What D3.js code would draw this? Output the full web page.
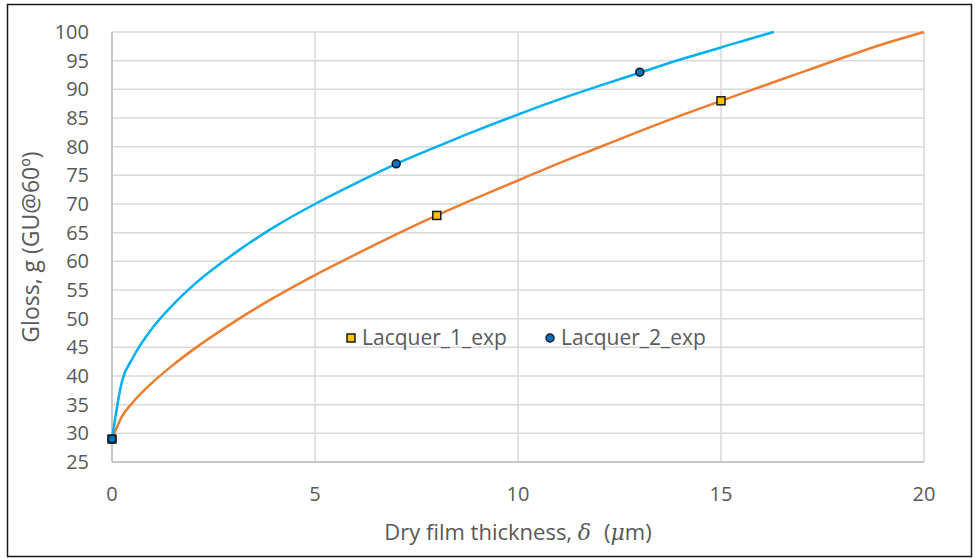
<!doctype html>
<html lang="en">
<head>
  <meta charset="utf-8">
  <title>Gloss vs dry film thickness</title>
  <style>
    body { margin:0; background:#fff; }
    svg text { font-family:"Open Sans", sans-serif; fill:#595959; }
  </style>
</head>
<body>
<svg id="chart" width="975" height="558"></svg>

<script src="https://cdn.jsdelivr.net/npm/d3@7"></script>
<script>
// fitted curves, values
var thick1 = [0, 0.25, 0.5, 1, 1.5, 2, 3, 4, 5, 6, 7, 8, 9, 10, 11, 12, 13, 14, 15, 16, 17, 18, 19, 20];
var gloss1 = [29, 33.0, 35.3, 38.9, 41.9, 44.6, 49.4, 53.7, 57.6, 61.2, 64.7, 68.0, 71.1, 74.1, 77.1, 79.9, 82.7, 85.4, 88.0, 90.5, 93.0, 95.5, 97.9, 100];
var thick2 = [0, 0.25, 0.5, 1, 1.5, 2, 3, 4, 5, 6, 7, 8, 9, 10, 11, 12, 13, 14, 15, 16, 16.3];
var gloss2 = [29, 39.2, 43.0, 48.4, 52.4, 55.8, 61.3, 66.0, 70.0, 73.6, 77.0, 80.0, 82.9, 85.6, 88.2, 90.6, 92.9, 95.2, 97.3, 99.4, 100];

// experimental points
var exp1X = [0, 8, 15];
var exp1Y = [29, 68, 88];
var exp2X = [0, 7, 13];
var exp2Y = [29, 77, 93];

var xTicks = [0, 5, 10, 15, 20];
var yTicks = [25, 30, 35, 40, 45, 50, 55, 60, 65, 70, 75, 80, 85, 90, 95, 100];

var svg = d3.select("#chart");

// outer frame
svg.append("rect")
  .attr("x", 7.5).attr("y", 4.5)
  .attr("width", 964).attr("height", 552)
  .attr("fill", "none").attr("stroke", "#1a1a1a").attr("stroke-width", 1.5);

var x = d3.scaleLinear().domain([0, 20]).range([112, 924]);
var y = d3.scaleLinear().domain([25, 100]).range([462, 32]);

// gridlines
svg.append("g").selectAll("line").data(yTicks).join("line")
  .attr("x1", x(0)).attr("x2", x(20))
  .attr("y1", d => y(d)).attr("y2", d => y(d))
  .attr("stroke", "#d9d9d9").attr("stroke-width", 1.5);
svg.append("g").selectAll("line").data(xTicks).join("line")
  .attr("x1", d => x(d)).attr("x2", d => x(d))
  .attr("y1", y(25)).attr("y2", y(100))
  .attr("stroke", "#d9d9d9").attr("stroke-width", 1.5);

// axis lines
svg.append("line").attr("x1", x(0)).attr("x2", x(20)).attr("y1", y(25)).attr("y2", y(25))
  .attr("stroke", "#bfbfbf").attr("stroke-width", 1.5);
svg.append("line").attr("x1", x(0)).attr("x2", x(0)).attr("y1", y(25)).attr("y2", y(100))
  .attr("stroke", "#bfbfbf").attr("stroke-width", 1.5);

// tick labels
svg.append("g").selectAll("text").data(yTicks).join("text")
  .attr("x", 89).attr("y", d => y(d)).attr("dy", "0.35em")
  .attr("text-anchor", "end").attr("font-size", 20)
  .text(d => d);
svg.append("g").selectAll("text").data(xTicks).join("text")
  .attr("x", d => x(d)).attr("y", 494).attr("dy", "0.35em")
  .attr("text-anchor", "middle").attr("font-size", 20)
  .text(d => d);

// axis titles
svg.append("text")
  .attr("transform", "translate(31," + ((y(25) + y(100)) / 2) + ") rotate(-90)")
  .attr("text-anchor", "middle").attr("dy", "0.35em").attr("font-size", 23)
  .text("Gloss, g (GU@60º)");
var xt = svg.append("text")
  .attr("x", (x(0) + x(20)) / 2).attr("y", 532).attr("dy", "0.35em")
  .attr("text-anchor", "middle").attr("font-size", 22);
xt.append("tspan").text("Dry film thickness, ");
xt.append("tspan").attr("font-style", "italic").attr("font-family", "DejaVu Serif").text("δ");
xt.append("tspan").attr("dx", 13).text("(");
xt.append("tspan").attr("font-style", "italic").attr("font-family", "DejaVu Serif").text("μ");
xt.append("tspan").text("m)");

// curves
var line = d3.line().x(d => x(d[0])).y(d => y(d[1])).curve(d3.curveMonotoneX);
svg.append("path").datum(d3.zip(thick1, gloss1)).attr("d", line)
  .attr("fill", "none").attr("stroke", "#ed7d31").attr("stroke-width", 2.5);
svg.append("path").datum(d3.zip(thick2, gloss2)).attr("d", line)
  .attr("fill", "none").attr("stroke", "#00b0f0").attr("stroke-width", 2.5);

// markers
svg.append("g").selectAll("rect").data(d3.zip(exp1X, exp1Y)).join("rect")
  .attr("x", d => x(d[0]) - 4).attr("y", d => y(d[1]) - 4)
  .attr("width", 8).attr("height", 8)
  .attr("fill", "#ffc000").attr("stroke", "#1a1a1a").attr("stroke-width", 1.5);
svg.append("g").selectAll("circle").data(d3.zip(exp2X, exp2Y)).join("circle")
  .attr("cx", d => x(d[0])).attr("cy", d => y(d[1])).attr("r", 4)
  .attr("fill", "#0070c0").attr("stroke", "#1a1a1a").attr("stroke-width", 1.5);

// legend
var leg = svg.append("g");
leg.append("rect").attr("x", 347).attr("y", 334).attr("width", 8).attr("height", 8)
  .attr("fill", "#ffc000").attr("stroke", "#1a1a1a").attr("stroke-width", 1.5);
leg.append("text").attr("x", 362).attr("y", 338).attr("dy", "0.35em").attr("font-size", 21)
  .text("Lacquer_1_exp");
leg.append("circle").attr("cx", 550).attr("cy", 338).attr("r", 4)
  .attr("fill", "#0070c0").attr("stroke", "#1a1a1a").attr("stroke-width", 1.5);
leg.append("text").attr("x", 561).attr("y", 338).attr("dy", "0.35em").attr("font-size", 21)
  .text("Lacquer_2_exp");
</script>
</body>
</html>
